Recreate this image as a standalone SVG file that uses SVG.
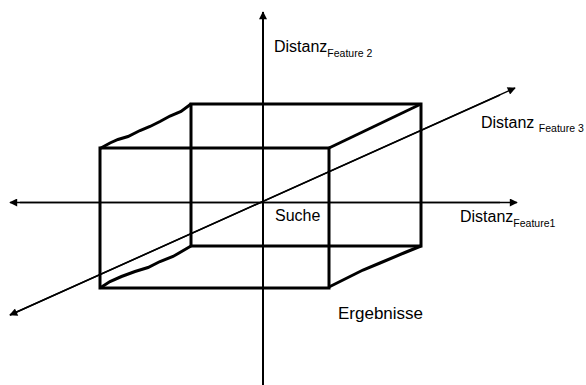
<svg xmlns="http://www.w3.org/2000/svg" width="586" height="385" viewBox="0 0 586 385">
<defs>
<marker id="ah" viewBox="0 0 10 10" refX="9" refY="5" markerWidth="10" markerHeight="8" markerUnits="userSpaceOnUse" orient="auto">
<path d="M0,0 L10,5 L0,10 Z" fill="#000"/>
</marker>
</defs>
<style>
.box{fill:none;stroke:#000;stroke-width:3;stroke-linejoin:miter}
.axis{fill:none;stroke:#000;stroke-width:1.5}
.t{font-family:"Liberation Sans",Arial,sans-serif;font-size:16px;fill:#000}
.s{font-family:"Liberation Sans",Arial,sans-serif;font-size:10.5px;fill:#000}
</style>
<rect width="586" height="385" fill="#fff"/>
<g id="box">
<rect class="box" x="191" y="104" width="230" height="142"/>
<rect class="box" x="100" y="148" width="229" height="140"/>
<path class="box" d="M100,148.5 L110,143 L118,139.5 L128,136.5 L140,130.5 L150,126.5 L160,121.5 L170,116 L181,111.5 L191,104"/>
<path class="box" d="M100,288 L110,281.5 L121.5,276.5 L135,271.5 L148,267.5 L160,261.5 L173,256.5 L191,246"/>
<path class="box" d="M329,287 L350,276.5 L363,270 L380,263 L405,252.5 L421,246"/>
<path class="box" d="M329,148 L421,104"/>
</g>
<g id="connectors">
<line class="axis" x1="263" y1="388" x2="263" y2="12" marker-end="url(#ah)" style="stroke-width:2"/>
<line class="axis" x1="263" y1="370" x2="263" y2="395" marker-end="url(#ah)" style="stroke-width:2"/>
<line class="axis" x1="20" y1="202.5" x2="517" y2="202.5" marker-end="url(#ah)"/>
<line class="axis" x1="500" y1="202.5" x2="10" y2="202.5" marker-end="url(#ah)"/>
<line class="axis" x1="10" y1="315" x2="515" y2="88" marker-end="url(#ah)"/>
<line class="axis" x1="500" y1="95" x2="10" y2="315" marker-end="url(#ah)"/>
</g>
<g id="labels">
<text class="t" x="274" y="52">Distanz<tspan class="s" dy="5">Feature 2</tspan></text>
<text class="t" x="481" y="128">Distanz <tspan class="s" dy="4">Feature 3</tspan></text>
<text class="t" x="460" y="222">Distanz<tspan class="s" dy="5">Feature1</tspan></text>
<text class="t" x="275" y="221">Suche</text>
<text class="t" x="338" y="319" style="font-size:17px">Ergebnisse</text>
</g>
</svg>
